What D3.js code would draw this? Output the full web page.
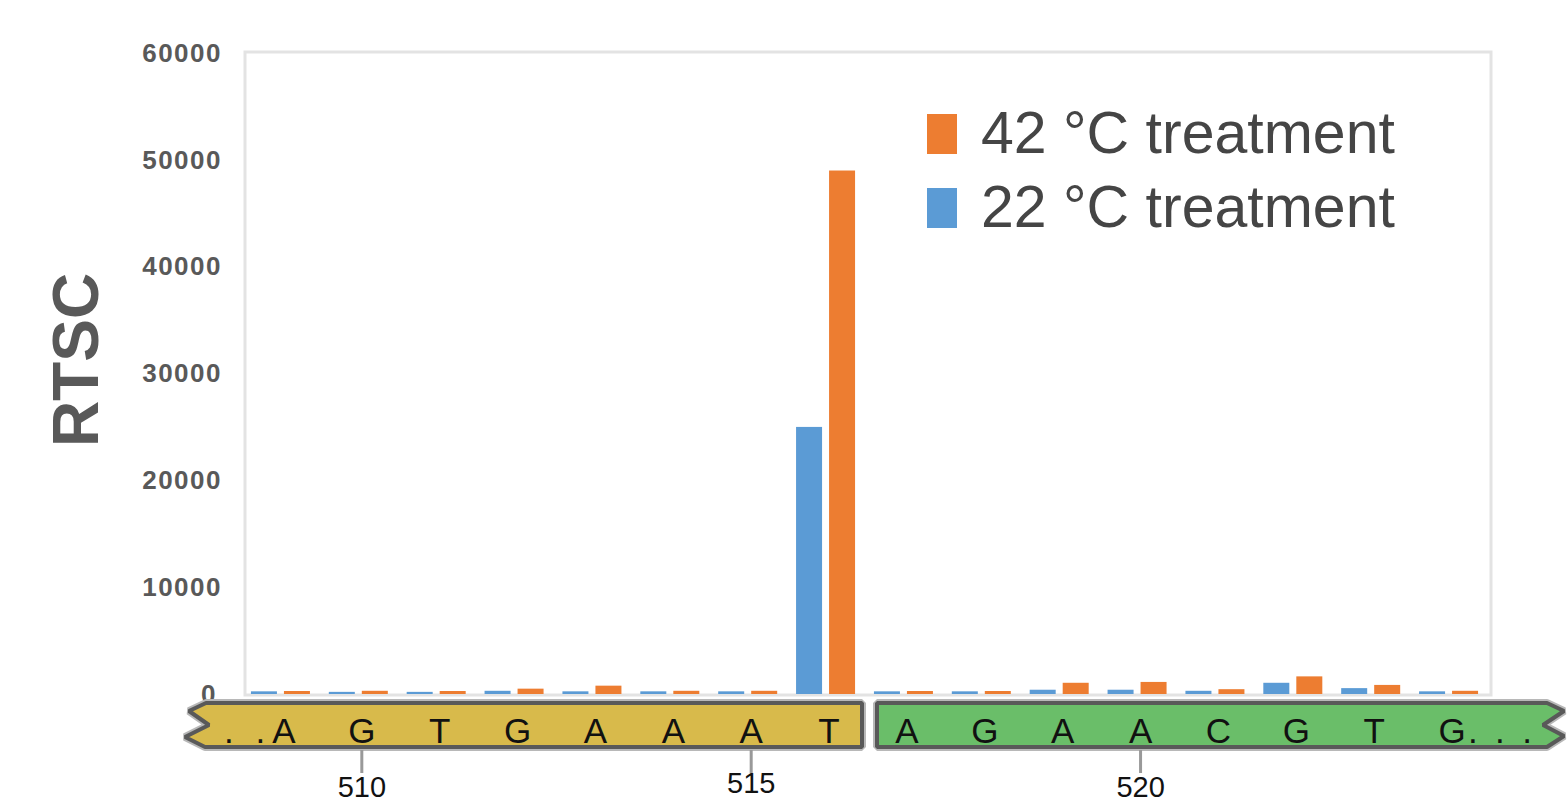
<!DOCTYPE html>
<html>
<head>
<meta charset="utf-8">
<script src="https://d3js.org/d3.v7.min.js"></script>
<style>
  body { margin: 0; background: #fff; }
  svg { display: block; font-family: "Liberation Sans", Arial, sans-serif; }
</style>
</head>
<body>
<div id="chart"></div>
<script>
// positions along the sequence and the base at each one
var positions = [509, 510, 511, 512, 513, 514, 515, 516, 517, 518, 519, 520, 521, 522, 523, 524];
var bases = ['A', 'G', 'T', 'G', 'A', 'A', 'A', 'T', 'A', 'G', 'A', 'A', 'C', 'G', 'T', 'G'];

// RTSC values
var rtsc22 = [250, 200, 200, 300, 250, 250, 250, 25000, 250, 250, 400, 400, 300, 1050, 550, 250];
var rtsc42 = [280, 300, 280, 500, 780, 300, 300, 49000, 280, 280, 1050, 1130, 450, 1650, 850, 300];

var yTicks = [0, 10000, 20000, 30000, 40000, 50000, 60000];
var posTicks = [510, 515, 520];
var seriesNames = ['42 °C treatment', '22 °C treatment'];

var width = 1567, height = 803;
// note: "top" clashes with window.top, so plot edges get their own names
var plotLeft = 245, plotRight = 1491, plotTop = 53, plotBottom = 694;
var blue = '#5b9bd5', orange = '#ed7d31';

var svg = d3.select('#chart').append('svg')
  .attr('width', width)
  .attr('height', height);

var x = d3.scaleBand().domain(positions).range([plotLeft, plotRight]);
var y = d3.scaleLinear().domain([0, 60000]).range([plotBottom, plotTop]);
function cx(d) { return x(d) + x.bandwidth() / 2; }

// plot frame
svg.append('rect')
  .attr('x', plotLeft).attr('y', 52)
  .attr('width', plotRight - plotLeft).attr('height', 695 - 52)
  .attr('fill', 'none')
  .attr('stroke', '#e3e3e3')
  .attr('stroke-width', 3);

// y axis labels only, no line or ticks
var yAxis = svg.append('g')
  .attr('transform', 'translate(' + plotLeft + ',0)')
  .call(d3.axisLeft(y).tickValues(yTicks).tickSize(0).tickPadding(23).tickFormat(d3.format('d')));
yAxis.select('.domain').remove();
yAxis.selectAll('text')
  .attr('fill', '#595959')
  .style('font-size', '26px')
  .style('font-weight', 'bold')
  .style('letter-spacing', '1.5px')
  .style('font-family', '"Liberation Sans", Arial, sans-serif')
  .attr('dx', function(d) { return d === 0 ? -5 : 0; });

svg.append('text')
  .attr('transform', 'translate(98,360) rotate(-90)')
  .attr('text-anchor', 'middle')
  .attr('fill', '#595959')
  .style('font-size', '64px')
  .style('font-weight', 'bold')
  .text('RTSC');

// bars
var groups = svg.append('g').selectAll('g')
  .data(positions)
  .enter().append('g');

groups.append('rect')
  .attr('x', function(d) { return cx(d) - 33; })
  .attr('width', 26)
  .attr('y', function(d, i) { return y(rtsc22[i]); })
  .attr('height', function(d, i) { return y(0) - y(rtsc22[i]); })
  .attr('fill', blue);

groups.append('rect')
  .attr('x', function(d) { return cx(d); })
  .attr('width', 26)
  .attr('y', function(d, i) { return y(rtsc42[i]); })
  .attr('height', function(d, i) { return y(0) - y(rtsc42[i]); })
  .attr('fill', orange);

// legend
var legend = svg.append('g').selectAll('g')
  .data(seriesNames)
  .enter().append('g')
  .attr('transform', function(d, i) { return 'translate(927,' + (114 + i * 74) + ')'; });
legend.append('rect')
  .attr('width', 30).attr('height', 40)
  .attr('fill', function(d, i) { return i === 0 ? orange : blue; });
legend.append('text')
  .attr('x', 54).attr('y', 39)
  .attr('fill', '#454545')
  .style('font-size', '59px')
  .text(function(d) { return d; });

// sequence strip below the axis
var s0 = 703, s1 = 747;
var yellowPath = 'M206,' + s0 + ' L862,' + s0 + ' L862,' + s1 + ' L205,' + s1 +
  ' L185,737 L209,725 L189,711 Z';
var greenPath = 'M877,' + s0 + ' L1547,' + s0 + ' L1564,711 L1543,725 L1564,736 L1547,' + s1 +
  ' L877,' + s1 + ' Z';

[[yellowPath, '#d8ba4b'], [greenPath, '#6abe69']].forEach(function(p) {
  svg.append('path').attr('d', p[0])
    .attr('fill', 'none').attr('stroke', '#b8b8b8').attr('stroke-width', 8)
    .attr('stroke-linejoin', 'bevel');
  svg.append('path').attr('d', p[0])
    .attr('fill', p[1]).attr('stroke', '#595959').attr('stroke-width', 4)
    .attr('stroke-linejoin', 'bevel');
});

svg.append('g').selectAll('text')
  .data(positions)
  .enter().append('text')
  .attr('x', cx)
  .attr('y', 743)
  .attr('text-anchor', 'middle')
  .attr('fill', '#111')
  .style('font-size', '35px')
  .text(function(d, i) { return bases[i]; });

// the dots at either end
svg.append('text')
  .attr('x', 224)
  .attr('y', 743)
  .attr('fill', '#111').style('font-size', '35px')
  .style('letter-spacing', '6px')
  .text('. .');
svg.append('text')
  .attr('x', cx(positions[15]) + 16)
  .attr('y', 743)
  .attr('fill', '#111').style('font-size', '35px')
  .style('letter-spacing', '3.8px')
  .text('. . .');

// position ticks
var pt = svg.append('g').selectAll('g')
  .data(posTicks)
  .enter().append('g')
  .attr('transform', function(d) { return 'translate(' + cx(d) + ',0)'; });
pt.append('line')
  .attr('y1', 750).attr('y2', 773)
  .attr('stroke', '#999').attr('stroke-width', 3);
pt.append('text')
  .attr('y', function(d) { return d === 515 ? 793 : 797; })
  .attr('text-anchor', 'middle')
  .attr('fill', '#111')
  .style('font-size', '29px')
  .text(function(d) { return d; });
</script>
</body>
</html>
